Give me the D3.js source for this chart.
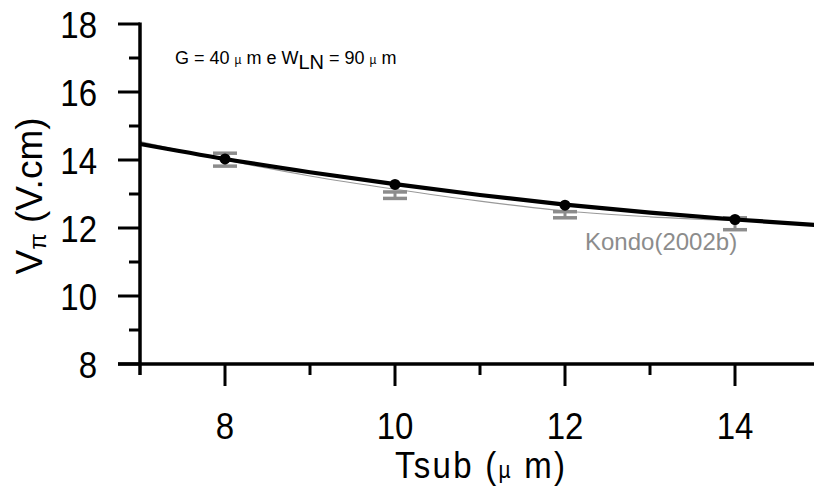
<!DOCTYPE html>
<html><head><meta charset="utf-8">
<script src="https://cdn.jsdelivr.net/npm/d3@7"></script>
<style>html,body{margin:0;padding:0;background:#fff;overflow:hidden}</style>
</head><body>
<svg id="c" width="814" height="491"></svg>
<script>
// data
const tsub = [8, 10, 12, 14];
const vpi = [14.03, 13.28, 12.67, 12.25];
const errLow = [13.82, 12.87, 12.30, 11.95];
const errHigh = [14.20, 13.06, 12.48, 12.30];
const fitX = [7, 8, 9, 10, 11, 12, 13, 14, 15];
const fitY = [14.47, 14.03, 13.64, 13.29, 12.97, 12.69, 12.45, 12.25, 12.08];
const kondoX = [7, 8, 9, 10, 11, 12, 13, 14];
const kondoY = [14.54, 14.00, 13.53, 13.14, 12.79, 12.50, 12.33, 12.22];
const xTicks = [8, 10, 12, 14];
const yTicks = [8, 10, 12, 14, 16, 18];

const svg = d3.select("#c");
const font = "Liberation Sans, Arial, sans-serif";
const x = d3.scaleLinear().domain([7, 15]).range([140, 820]);
const y = d3.scaleLinear().domain([8, 18]).range([364, 24]);

// Kondo gray curve
const line = d3.line().x(d => x(d[0])).y(d => y(d[1])).curve(d3.curveMonotoneX);
svg.append("path").datum(kondoX.map((v, i) => [v, kondoY[i]]))
  .attr("d", line).attr("fill", "none").attr("stroke", "#999").attr("stroke-width", 1.2);

// error bars
const eb = svg.append("g").attr("stroke", "#8c8c8c");
tsub.forEach((t, i) => {
  eb.append("line").attr("x1", x(t)).attr("x2", x(t)).attr("y1", y(errLow[i])).attr("y2", y(errHigh[i])).attr("stroke-width", 3);
  [errLow[i], errHigh[i]].forEach(v => {
    eb.append("line").attr("x1", x(t) - 12).attr("x2", x(t) + 12).attr("y1", y(v)).attr("y2", y(v)).attr("stroke-width", 3.5);
  });
});

// black fit
svg.append("path").datum(fitX.map((v, i) => [v, fitY[i]]))
  .attr("d", line).attr("fill", "none").attr("stroke", "#000").attr("stroke-width", 4.2);

// points
svg.selectAll("circle.pt").data(tsub).enter().append("circle")
  .attr("cx", d => x(d)).attr("cy", (d, i) => y(vpi[i])).attr("r", 5.5).attr("fill", "#000");

// axes
const ax = svg.append("g").attr("stroke", "#000").attr("stroke-width", 3.5);
ax.append("line").attr("x1", 118).attr("x2", 814).attr("y1", y(8)).attr("y2", y(8));
ax.append("line").attr("x1", x(7)).attr("x2", x(7)).attr("y1", y(18) - 1.5).attr("y2", y(8) + 11);
d3.range(8, 18.1, 1).forEach(v => {
  const major = v % 2 === 0;
  ax.append("line").attr("x1", x(7) - (major ? 22 : 11)).attr("x2", x(7)).attr("y1", y(v)).attr("y2", y(v)).attr("stroke-width", 3);
});
d3.range(8, 15.1, 1).forEach(v => {
  const major = v % 2 === 0;
  ax.append("line").attr("x1", x(v)).attr("x2", x(v)).attr("y1", y(8)).attr("y2", y(8) + (major ? 22 : 11)).attr("stroke-width", 3);
});

// tick labels (slightly condensed look)
svg.selectAll("text.yt").data(yTicks).enter().append("text")
  .attr("transform", d => `translate(97,${y(d) + 13.5}) scale(1,1.13)`).attr("text-anchor", "end")
  .attr("font-family", font).attr("font-size", 33).text(d => d);
svg.selectAll("text.xt").data(xTicks).enter().append("text")
  .attr("transform", d => `translate(${x(d)},439) scale(1,1.13)`).attr("text-anchor", "middle")
  .attr("font-family", font).attr("font-size", 33).text(d => d);

// axis titles
const xt = svg.append("text").attr("transform", `translate(${x(10)},478) scale(1,1.1)`)
  .attr("font-family", font).attr("font-size", 33)
  .attr("textLength", 170).attr("lengthAdjust", "spacing");
xt.append("tspan").text("Tsub (");
xt.append("tspan").attr("font-size", 21).text("\u00b5");
xt.append("tspan").text(" m)");

const yt = svg.append("text").attr("transform", "translate(42,196) rotate(-90)").attr("text-anchor", "middle")
  .attr("font-family", font).attr("font-size", 37);
yt.append("tspan").text("V");
yt.append("tspan").attr("font-size", 24).attr("dy", 4).text("\u03c0");
yt.append("tspan").attr("dy", -4).text("  (V.cm)");

// annotation
const an = svg.append("text").attr("x", 175).attr("y", 64).attr("font-family", font).attr("font-size", 18);
an.append("tspan").text("G = 40 ");
an.append("tspan").attr("font-size", 12).text("\u00b5");
an.append("tspan").text(" m e W");
an.append("tspan").attr("dy", 5).attr("font-size", 20).text("LN");
an.append("tspan").attr("dy", -5).text(" = 90 ");
an.append("tspan").attr("font-size", 12).text("\u00b5");
an.append("tspan").text(" m");

svg.append("text").attr("x", 585).attr("y", 250).attr("font-family", font).attr("font-size", 24)
  .attr("fill", "#8c8c8c").text("Kondo(2002b)");
</script>
</body></html>
